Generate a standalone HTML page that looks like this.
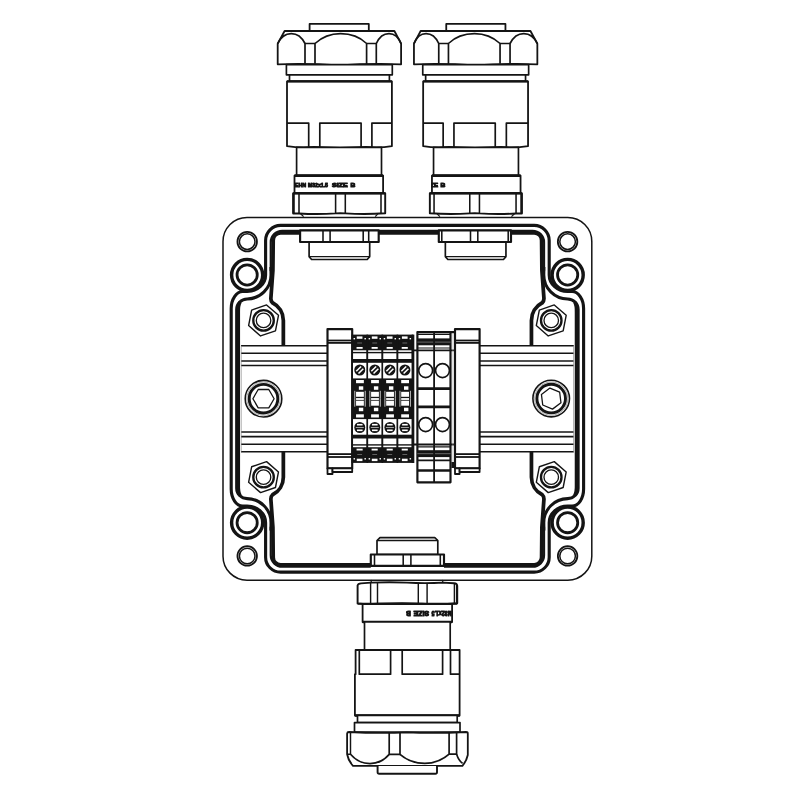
<!DOCTYPE html>
<html lang="en"><head><meta charset="utf-8"><title>Junction box drawing</title>
<style>
html,body{margin:0;padding:0;background:#fff;}
body{width:800px;height:800px;overflow:hidden;}
svg{display:block;will-change:transform;}
.t{font-family:"Liberation Sans",sans-serif;font-weight:bold;font-size:5.7px;fill:#141414;stroke:#141414;stroke-width:1.0px;}
</style></head><body>
<svg width="800" height="800" viewBox="0 0 800 800" fill="none">
<rect x="0" y="0" width="800" height="800" fill="#fff" stroke="none"/>
<g stroke="#141414" stroke-linejoin="round" fill="none">
<g transform="translate(0 0.33)" >
<rect x="223" y="217.1" width="368.80" height="362.70" rx="24" ry="24" stroke-width="1.5" fill="#fff"/>
<circle cx="247.20" cy="241.30" r="9.75" stroke-width="1.8" fill="none" />
<circle cx="247.20" cy="241.30" r="7.80" stroke-width="1.5" fill="none" />
<circle cx="247.15" cy="274.60" r="15.55" stroke-width="3.43" fill="none" />
<circle cx="247.15" cy="274.60" r="10.10" stroke-width="2.81" fill="none" />
<circle cx="247.20" cy="555.60" r="9.75" stroke-width="1.8" fill="none" />
<circle cx="247.20" cy="555.60" r="7.80" stroke-width="1.5" fill="none" />
<circle cx="247.15" cy="522.30" r="15.55" stroke-width="3.43" fill="none" />
<circle cx="247.15" cy="522.30" r="10.10" stroke-width="2.81" fill="none" />
<circle cx="567.60" cy="241.30" r="9.75" stroke-width="1.8" fill="none" />
<circle cx="567.60" cy="241.30" r="7.80" stroke-width="1.5" fill="none" />
<circle cx="567.65" cy="274.60" r="15.55" stroke-width="3.43" fill="none" />
<circle cx="567.65" cy="274.60" r="10.10" stroke-width="2.81" fill="none" />
<circle cx="567.60" cy="555.60" r="9.75" stroke-width="1.8" fill="none" />
<circle cx="567.60" cy="555.60" r="7.80" stroke-width="1.5" fill="none" />
<circle cx="567.65" cy="522.30" r="15.55" stroke-width="3.43" fill="none" />
<circle cx="567.65" cy="522.30" r="10.10" stroke-width="2.81" fill="none" />
<path d="M407.40,225.10 L280.60,225.10 A15,15 0 0 0 265.60,240.10 L265.60,274.60 A18.5,16.6 0 0 1 247.15,291.20 L242.70,291.20 A11.5,17 0 0 0 231.20,308.20 L231.20,398.45 L231.20,488.70 A11.5,17 0 0 0 242.70,505.70 L247.15,505.70 A18.5,16.6 0 0 1 265.60,522.30 L265.60,556.80 A15,15 0 0 0 280.60,571.80 L407.40,571.80 L534.20,571.80 A15,15 0 0 0 549.20,556.80 L549.20,522.30 A18.5,16.6 0 0 1 567.65,505.70 L572.10,505.70 A11.5,17 0 0 0 583.60,488.70 L583.60,398.45 L583.60,308.20 A11.5,17 0 0 0 572.10,291.20 L567.65,291.20 A18.5,16.6 0 0 1 549.20,274.60 L549.20,240.10 A15,15 0 0 0 534.20,225.10 L407.40,225.10 Z" stroke-width="3.12" fill="none" />
<path d="M544.10,270.60 L544.10,241.90 A11.5,11.5 0 0 0 532.60,230.40 L407.40,230.40 L282.20,230.40 A11.5,11.5 0 0 0 270.70,241.90 L270.70,270.60" stroke-width="2.08" fill="none" />
<path d="M544.10,526.30 L544.10,555.00 A11.5,11.5 0 0 1 532.60,566.50 L407.40,566.50 L282.20,566.50 A11.5,11.5 0 0 1 270.70,555.00 L270.70,526.30" stroke-width="2.08" fill="none" />
<path d="M270.90,266.60 L271.00,274.60 A24,24 0 0 1 247.15,298.60 A10.5,10.5 0 0 0 236.65,309.10 L236.65,398.45 L236.65,487.80 A10.5,10.5 0 0 0 247.15,498.30 A24,24 0 0 1 271.00,522.30 L270.90,530.30" stroke-width="3.02" fill="none" />
<path d="M543.90,266.60 L543.80,274.60 A24,24 0 0 0 567.65,298.60 A10.5,10.5 0 0 1 578.15,309.10 L578.15,398.45 L578.15,487.80 A10.5,10.5 0 0 1 567.65,498.30 A24,24 0 0 0 543.80,522.30 L543.90,530.30" stroke-width="3.02" fill="none" />
<path d="M531.45,346.00 L531.45,320.10 A19.8,19.8 0 0 1 542.26,302.46 Q544.20,300.60 543.90,297.50 L541.90,270.00 L541.60,239.85 A7.4,7.4 0 0 0 534.20,232.45 L407.40,232.45 L280.60,232.45 A7.4,7.4 0 0 0 273.20,239.85 L272.90,270.00 L270.90,297.50 Q270.60,300.60 272.54,302.46 A19.8,19.8 0 0 1 283.35,320.10 L283.35,346.00" stroke-width="3.74" fill="none" />
<path d="M531.45,450.90 L531.45,476.80 A19.8,19.8 0 0 0 542.26,494.44 Q544.20,496.30 543.90,499.40 L541.90,526.90 L541.60,557.05 A7.4,7.4 0 0 1 534.20,564.45 L407.40,564.45 L280.60,564.45 A7.4,7.4 0 0 1 273.20,557.05 L272.90,526.90 L270.90,499.40 Q270.60,496.30 272.54,494.44 A19.8,19.8 0 0 0 283.35,476.80 L283.35,450.90" stroke-width="3.74" fill="none" />
<path d="M240.20,301.60 Q238.20,305.00 238.40,312.00 L238.40,398.45 L238.40,484.90 Q238.20,491.90 240.20,495.30" stroke-width="3.33" fill="none" />
<path d="M574.60,301.60 Q576.60,305.00 576.40,312.00 L576.40,398.45 L576.40,484.90 Q576.60,491.90 574.60,495.30" stroke-width="3.33" fill="none" />
<polygon points="266.56,304.59 278.49,314.96 275.47,330.47 260.54,335.61 248.61,325.24 251.63,309.73" stroke-width="1.4" fill="#fff"/>
<circle cx="263.55" cy="320.10" r="10.25" stroke-width="2.34" fill="none" />
<circle cx="263.55" cy="320.10" r="7.25" stroke-width="1.32" fill="none" />
<polygon points="554.26,304.59 566.19,314.96 563.17,330.47 548.24,335.61 536.31,325.24 539.33,309.73" stroke-width="1.4" fill="#fff"/>
<circle cx="551.25" cy="320.10" r="10.25" stroke-width="2.34" fill="none" />
<circle cx="551.25" cy="320.10" r="7.25" stroke-width="1.32" fill="none" />
<polygon points="266.56,461.29 278.49,471.66 275.47,487.17 260.54,492.31 248.61,481.94 251.63,466.43" stroke-width="1.4" fill="#fff"/>
<circle cx="263.55" cy="476.80" r="10.25" stroke-width="2.34" fill="none" />
<circle cx="263.55" cy="476.80" r="7.25" stroke-width="1.32" fill="none" />
<polygon points="554.26,461.29 566.19,471.66 563.17,487.17 548.24,492.31 536.31,481.94 539.33,466.43" stroke-width="1.4" fill="#fff"/>
<circle cx="551.25" cy="476.80" r="10.25" stroke-width="2.34" fill="none" />
<circle cx="551.25" cy="476.80" r="7.25" stroke-width="1.32" fill="none" />
</g>
<rect x="241.0" y="345.75" width="332.80" height="106" fill="#fff" stroke="none"/>
<line x1="241.00" y1="345.75" x2="573.80" y2="345.75" stroke-width="1.74" />
<line x1="241.00" y1="451.75" x2="573.80" y2="451.75" stroke-width="1.74" />
<line x1="241.00" y1="353.25" x2="573.80" y2="353.25" stroke-width="1.68" />
<line x1="241.00" y1="361.00" x2="573.80" y2="361.00" stroke-width="1.68" />
<line x1="241.00" y1="365.50" x2="573.80" y2="365.50" stroke-width="1.68" />
<line x1="241.00" y1="432.00" x2="573.80" y2="432.00" stroke-width="1.68" />
<line x1="241.00" y1="436.60" x2="573.80" y2="436.60" stroke-width="1.68" />
<line x1="241.00" y1="444.25" x2="573.80" y2="444.25" stroke-width="1.68" />
<line x1="241.30" y1="345.75" x2="241.30" y2="451.75" stroke-width="0.62" stroke="#888"/>
<line x1="573.50" y1="345.75" x2="573.50" y2="451.75" stroke-width="0.62" stroke="#888"/>
<circle cx="263.50" cy="398.70" r="18.30" stroke-width="1.56" fill="#fff" />
<circle cx="263.50" cy="398.70" r="16.60" stroke-width="0.62" fill="none" stroke="#777"/>
<circle cx="263.50" cy="398.70" r="14.30" stroke-width="2.91" fill="none" />
<polygon points="274.10,398.70 268.80,407.88 258.20,407.88 252.90,398.70 258.20,389.52 268.80,389.52" stroke-width="1.3" fill="none"/>
<circle cx="551.20" cy="398.60" r="18.30" stroke-width="1.56" fill="#fff" />
<circle cx="551.20" cy="398.60" r="16.60" stroke-width="0.62" fill="none" stroke="#777"/>
<circle cx="551.20" cy="398.60" r="14.30" stroke-width="2.91" fill="none" />
<polygon points="549.91,388.08 559.67,392.22 560.96,402.74 552.49,409.12 542.73,404.98 541.44,394.46" stroke-width="1.3" fill="none"/>
<rect x="327.5" y="329.1" width="152.1" height="139.3" fill="#fff" stroke="none"/>
<rect x="327.50" y="329.10" width="24.70" height="139.30" stroke-width="2.16" fill="#fff" />
<line x1="327.50" y1="340.50" x2="352.20" y2="340.50" stroke-width="1.8" />
<line x1="327.50" y1="342.90" x2="352.20" y2="342.90" stroke-width="1.8" />
<line x1="327.50" y1="454.10" x2="352.20" y2="454.10" stroke-width="1.8" />
<line x1="327.50" y1="457.00" x2="352.20" y2="457.00" stroke-width="1.8" />
<rect x="327.50" y="468.40" width="5.00" height="5.60" stroke-width="1.8" fill="#fff" />
<rect x="332.50" y="468.40" width="19.70" height="3.60" stroke-width="1.8" fill="#fff" />
<rect x="455.00" y="329.10" width="24.60" height="139.30" stroke-width="2.16" fill="#fff" />
<line x1="455.00" y1="340.50" x2="479.60" y2="340.50" stroke-width="1.8" />
<line x1="455.00" y1="342.90" x2="479.60" y2="342.90" stroke-width="1.8" />
<line x1="455.00" y1="454.10" x2="479.60" y2="454.10" stroke-width="1.8" />
<line x1="455.00" y1="457.00" x2="479.60" y2="457.00" stroke-width="1.8" />
<rect x="455.00" y="468.40" width="4.60" height="5.60" stroke-width="1.8" fill="#fff" />
<rect x="459.60" y="468.40" width="20.00" height="3.60" stroke-width="1.8" fill="#fff" />
<rect x="352.25" y="334.6" width="15.05" height="128.30" fill="#141414" stroke="none"/>
<rect x="356.75" y="336.40" width="5.70" height="2.40" fill="#fff" stroke="none"/>
<rect x="356.75" y="458.70" width="5.70" height="2.40" fill="#fff" stroke="none"/>
<rect x="353.55" y="338.00" width="1.50" height="1.40" fill="#fff" stroke="none"/>
<rect x="353.55" y="458.10" width="1.50" height="1.40" fill="#fff" stroke="none"/>
<rect x="364.45" y="338.00" width="1.50" height="1.40" fill="#fff" stroke="none"/>
<rect x="364.45" y="458.10" width="1.50" height="1.40" fill="#fff" stroke="none"/>
<rect x="357.25" y="342.60" width="4.80" height="0.80" fill="#777" stroke="none"/>
<rect x="357.25" y="454.10" width="4.80" height="0.80" fill="#777" stroke="none"/>
<rect x="356.55" y="347.00" width="6.10" height="1.80" fill="#fff" stroke="none"/>
<rect x="356.55" y="448.70" width="6.10" height="1.80" fill="#fff" stroke="none"/>
<rect x="353.05" y="350.30" width="13.45" height="1.60" fill="#fff" stroke="none"/>
<rect x="353.05" y="445.60" width="13.45" height="1.60" fill="#fff" stroke="none"/>
<rect x="353.05" y="353.30" width="13.45" height="5.70" fill="#fff" stroke="none"/>
<rect x="353.05" y="438.50" width="13.45" height="5.70" fill="#fff" stroke="none"/>
<rect x="352.85" y="362.80" width="13.85" height="15.60" fill="#fff" stroke="none"/>
<rect x="352.85" y="419.10" width="13.85" height="15.60" fill="#fff" stroke="none"/>
<rect x="356.05" y="380.00" width="7.80" height="3.20" fill="#fff" stroke="none"/>
<rect x="356.05" y="414.30" width="7.80" height="3.20" fill="#fff" stroke="none"/>
<rect x="358.85" y="386.30" width="4.40" height="3.50" fill="#fff" stroke="none"/>
<rect x="358.85" y="407.70" width="4.40" height="3.50" fill="#fff" stroke="none"/>
<rect x="356.05" y="391.80" width="7.80" height="5.00" fill="#fff" stroke="none"/>
<rect x="356.05" y="400.70" width="7.80" height="5.00" fill="#fff" stroke="none"/>
<rect x="356.05" y="398.05" width="7.8" height="1.9" fill="#f2f2f2" stroke="none"/>
<rect x="354.35" y="390.80" width="0.90" height="7.95" fill="#d4d4d4" stroke="none"/>
<rect x="354.35" y="398.75" width="0.90" height="7.95" fill="#d4d4d4" stroke="none"/>
<rect x="364.75" y="390.80" width="0.90" height="7.95" fill="#d4d4d4" stroke="none"/>
<rect x="364.75" y="398.75" width="0.90" height="7.95" fill="#d4d4d4" stroke="none"/>
<circle cx="359.77" cy="370.0" r="5.5" fill="#141414" stroke="none"/>
<g transform="rotate(-45 359.77 370.0)"><rect x="356.38" y="367.65" width="6.8" height="1.55" fill="#fff" stroke="none"/><rect x="356.38" y="370.80" width="6.8" height="1.55" fill="#fff" stroke="none"/></g>
<circle cx="359.77" cy="427.50" r="5.5" fill="#141414" stroke="none"/>
<rect x="356.97" y="423.90" width="5.6" height="1.6" fill="#fff" stroke="none"/><rect x="355.77" y="427.15" width="8.0" height="0.7" fill="#ddd" stroke="none"/><rect x="356.97" y="429.50" width="5.6" height="1.6" fill="#fff" stroke="none"/>
<rect x="367.30" y="334.6" width="15.05" height="128.30" fill="#141414" stroke="none"/>
<rect x="371.80" y="336.40" width="5.70" height="2.40" fill="#fff" stroke="none"/>
<rect x="371.80" y="458.70" width="5.70" height="2.40" fill="#fff" stroke="none"/>
<rect x="368.60" y="338.00" width="1.50" height="1.40" fill="#fff" stroke="none"/>
<rect x="368.60" y="458.10" width="1.50" height="1.40" fill="#fff" stroke="none"/>
<rect x="379.50" y="338.00" width="1.50" height="1.40" fill="#fff" stroke="none"/>
<rect x="379.50" y="458.10" width="1.50" height="1.40" fill="#fff" stroke="none"/>
<rect x="372.30" y="342.60" width="4.80" height="0.80" fill="#777" stroke="none"/>
<rect x="372.30" y="454.10" width="4.80" height="0.80" fill="#777" stroke="none"/>
<rect x="371.60" y="347.00" width="6.10" height="1.80" fill="#fff" stroke="none"/>
<rect x="371.60" y="448.70" width="6.10" height="1.80" fill="#fff" stroke="none"/>
<rect x="368.10" y="350.30" width="13.45" height="1.60" fill="#fff" stroke="none"/>
<rect x="368.10" y="445.60" width="13.45" height="1.60" fill="#fff" stroke="none"/>
<rect x="368.10" y="353.30" width="13.45" height="5.70" fill="#fff" stroke="none"/>
<rect x="368.10" y="438.50" width="13.45" height="5.70" fill="#fff" stroke="none"/>
<rect x="367.90" y="362.80" width="13.85" height="15.60" fill="#fff" stroke="none"/>
<rect x="367.90" y="419.10" width="13.85" height="15.60" fill="#fff" stroke="none"/>
<rect x="371.10" y="380.00" width="7.80" height="3.20" fill="#fff" stroke="none"/>
<rect x="371.10" y="414.30" width="7.80" height="3.20" fill="#fff" stroke="none"/>
<rect x="373.90" y="386.30" width="4.40" height="3.50" fill="#fff" stroke="none"/>
<rect x="373.90" y="407.70" width="4.40" height="3.50" fill="#fff" stroke="none"/>
<rect x="371.10" y="391.80" width="7.80" height="5.00" fill="#fff" stroke="none"/>
<rect x="371.10" y="400.70" width="7.80" height="5.00" fill="#fff" stroke="none"/>
<rect x="371.10" y="398.05" width="7.8" height="1.9" fill="#f2f2f2" stroke="none"/>
<rect x="369.40" y="390.80" width="0.90" height="7.95" fill="#d4d4d4" stroke="none"/>
<rect x="369.40" y="398.75" width="0.90" height="7.95" fill="#d4d4d4" stroke="none"/>
<rect x="379.80" y="390.80" width="0.90" height="7.95" fill="#d4d4d4" stroke="none"/>
<rect x="379.80" y="398.75" width="0.90" height="7.95" fill="#d4d4d4" stroke="none"/>
<circle cx="374.82" cy="370.0" r="5.5" fill="#141414" stroke="none"/>
<g transform="rotate(-45 374.82 370.0)"><rect x="371.43" y="367.65" width="6.8" height="1.55" fill="#fff" stroke="none"/><rect x="371.43" y="370.80" width="6.8" height="1.55" fill="#fff" stroke="none"/></g>
<circle cx="374.82" cy="427.50" r="5.5" fill="#141414" stroke="none"/>
<rect x="372.02" y="423.90" width="5.6" height="1.6" fill="#fff" stroke="none"/><rect x="370.82" y="427.15" width="8.0" height="0.7" fill="#ddd" stroke="none"/><rect x="372.02" y="429.50" width="5.6" height="1.6" fill="#fff" stroke="none"/>
<rect x="382.35" y="334.6" width="15.05" height="128.30" fill="#141414" stroke="none"/>
<rect x="386.85" y="336.40" width="5.70" height="2.40" fill="#fff" stroke="none"/>
<rect x="386.85" y="458.70" width="5.70" height="2.40" fill="#fff" stroke="none"/>
<rect x="383.65" y="338.00" width="1.50" height="1.40" fill="#fff" stroke="none"/>
<rect x="383.65" y="458.10" width="1.50" height="1.40" fill="#fff" stroke="none"/>
<rect x="394.55" y="338.00" width="1.50" height="1.40" fill="#fff" stroke="none"/>
<rect x="394.55" y="458.10" width="1.50" height="1.40" fill="#fff" stroke="none"/>
<rect x="387.35" y="342.60" width="4.80" height="0.80" fill="#777" stroke="none"/>
<rect x="387.35" y="454.10" width="4.80" height="0.80" fill="#777" stroke="none"/>
<rect x="386.65" y="347.00" width="6.10" height="1.80" fill="#fff" stroke="none"/>
<rect x="386.65" y="448.70" width="6.10" height="1.80" fill="#fff" stroke="none"/>
<rect x="383.15" y="350.30" width="13.45" height="1.60" fill="#fff" stroke="none"/>
<rect x="383.15" y="445.60" width="13.45" height="1.60" fill="#fff" stroke="none"/>
<rect x="383.15" y="353.30" width="13.45" height="5.70" fill="#fff" stroke="none"/>
<rect x="383.15" y="438.50" width="13.45" height="5.70" fill="#fff" stroke="none"/>
<rect x="382.95" y="362.80" width="13.85" height="15.60" fill="#fff" stroke="none"/>
<rect x="382.95" y="419.10" width="13.85" height="15.60" fill="#fff" stroke="none"/>
<rect x="386.15" y="380.00" width="7.80" height="3.20" fill="#fff" stroke="none"/>
<rect x="386.15" y="414.30" width="7.80" height="3.20" fill="#fff" stroke="none"/>
<rect x="388.95" y="386.30" width="4.40" height="3.50" fill="#fff" stroke="none"/>
<rect x="388.95" y="407.70" width="4.40" height="3.50" fill="#fff" stroke="none"/>
<rect x="386.15" y="391.80" width="7.80" height="5.00" fill="#fff" stroke="none"/>
<rect x="386.15" y="400.70" width="7.80" height="5.00" fill="#fff" stroke="none"/>
<rect x="386.15" y="398.05" width="7.8" height="1.9" fill="#f2f2f2" stroke="none"/>
<rect x="384.45" y="390.80" width="0.90" height="7.95" fill="#d4d4d4" stroke="none"/>
<rect x="384.45" y="398.75" width="0.90" height="7.95" fill="#d4d4d4" stroke="none"/>
<rect x="394.85" y="390.80" width="0.90" height="7.95" fill="#d4d4d4" stroke="none"/>
<rect x="394.85" y="398.75" width="0.90" height="7.95" fill="#d4d4d4" stroke="none"/>
<circle cx="389.88" cy="370.0" r="5.5" fill="#141414" stroke="none"/>
<g transform="rotate(-45 389.88 370.0)"><rect x="386.48" y="367.65" width="6.8" height="1.55" fill="#fff" stroke="none"/><rect x="386.48" y="370.80" width="6.8" height="1.55" fill="#fff" stroke="none"/></g>
<circle cx="389.88" cy="427.50" r="5.5" fill="#141414" stroke="none"/>
<rect x="387.07" y="423.90" width="5.6" height="1.6" fill="#fff" stroke="none"/><rect x="385.88" y="427.15" width="8.0" height="0.7" fill="#ddd" stroke="none"/><rect x="387.07" y="429.50" width="5.6" height="1.6" fill="#fff" stroke="none"/>
<rect x="397.40" y="334.6" width="15.05" height="128.30" fill="#141414" stroke="none"/>
<rect x="401.90" y="336.40" width="5.70" height="2.40" fill="#fff" stroke="none"/>
<rect x="401.90" y="458.70" width="5.70" height="2.40" fill="#fff" stroke="none"/>
<rect x="398.70" y="338.00" width="1.50" height="1.40" fill="#fff" stroke="none"/>
<rect x="398.70" y="458.10" width="1.50" height="1.40" fill="#fff" stroke="none"/>
<rect x="409.60" y="338.00" width="1.50" height="1.40" fill="#fff" stroke="none"/>
<rect x="409.60" y="458.10" width="1.50" height="1.40" fill="#fff" stroke="none"/>
<rect x="402.40" y="342.60" width="4.80" height="0.80" fill="#777" stroke="none"/>
<rect x="402.40" y="454.10" width="4.80" height="0.80" fill="#777" stroke="none"/>
<rect x="401.70" y="347.00" width="6.10" height="1.80" fill="#fff" stroke="none"/>
<rect x="401.70" y="448.70" width="6.10" height="1.80" fill="#fff" stroke="none"/>
<rect x="398.20" y="350.30" width="13.45" height="1.60" fill="#fff" stroke="none"/>
<rect x="398.20" y="445.60" width="13.45" height="1.60" fill="#fff" stroke="none"/>
<rect x="398.20" y="353.30" width="13.45" height="5.70" fill="#fff" stroke="none"/>
<rect x="398.20" y="438.50" width="13.45" height="5.70" fill="#fff" stroke="none"/>
<rect x="398.00" y="362.80" width="13.85" height="15.60" fill="#fff" stroke="none"/>
<rect x="398.00" y="419.10" width="13.85" height="15.60" fill="#fff" stroke="none"/>
<rect x="401.20" y="380.00" width="7.80" height="3.20" fill="#fff" stroke="none"/>
<rect x="401.20" y="414.30" width="7.80" height="3.20" fill="#fff" stroke="none"/>
<rect x="404.00" y="386.30" width="4.40" height="3.50" fill="#fff" stroke="none"/>
<rect x="404.00" y="407.70" width="4.40" height="3.50" fill="#fff" stroke="none"/>
<rect x="401.20" y="391.80" width="7.80" height="5.00" fill="#fff" stroke="none"/>
<rect x="401.20" y="400.70" width="7.80" height="5.00" fill="#fff" stroke="none"/>
<rect x="401.20" y="398.05" width="7.8" height="1.9" fill="#f2f2f2" stroke="none"/>
<rect x="399.50" y="390.80" width="0.90" height="7.95" fill="#d4d4d4" stroke="none"/>
<rect x="399.50" y="398.75" width="0.90" height="7.95" fill="#d4d4d4" stroke="none"/>
<rect x="409.90" y="390.80" width="0.90" height="7.95" fill="#d4d4d4" stroke="none"/>
<rect x="409.90" y="398.75" width="0.90" height="7.95" fill="#d4d4d4" stroke="none"/>
<circle cx="404.92" cy="370.0" r="5.5" fill="#141414" stroke="none"/>
<g transform="rotate(-45 404.92 370.0)"><rect x="401.52" y="367.65" width="6.8" height="1.55" fill="#fff" stroke="none"/><rect x="401.52" y="370.80" width="6.8" height="1.55" fill="#fff" stroke="none"/></g>
<circle cx="404.92" cy="427.50" r="5.5" fill="#141414" stroke="none"/>
<rect x="402.12" y="423.90" width="5.6" height="1.6" fill="#fff" stroke="none"/><rect x="400.92" y="427.15" width="8.0" height="0.7" fill="#ddd" stroke="none"/><rect x="402.12" y="429.50" width="5.6" height="1.6" fill="#fff" stroke="none"/>
<line x1="352.25" y1="334.60" x2="352.25" y2="463.00" stroke-width="1.56" />
<line x1="367.30" y1="334.60" x2="367.30" y2="463.00" stroke-width="1.56" />
<line x1="382.35" y1="334.60" x2="382.35" y2="463.00" stroke-width="1.56" />
<line x1="397.40" y1="334.60" x2="397.40" y2="463.00" stroke-width="1.56" />
<line x1="412.45" y1="334.60" x2="412.45" y2="463.00" stroke-width="1.56" />
<line x1="413.30" y1="334.60" x2="413.30" y2="463.00" stroke-width="2.04" />
<rect x="417.40" y="332.10" width="33.10" height="150.20" stroke-width="2.16" fill="#fff" />
<line x1="413.60" y1="350.30" x2="455.00" y2="350.30" stroke-width="1.8" />
<line x1="413.60" y1="444.50" x2="455.00" y2="444.50" stroke-width="1.8" />
<line x1="417.40" y1="332.10" x2="455.00" y2="332.10" stroke-width="2.16" />
<line x1="417.40" y1="334.50" x2="450.50" y2="334.50" stroke-width="1.2" />
<rect x="417.4" y="338.4" width="33.10" height="6.9" fill="#141414" stroke="none"/>
<line x1="417.40" y1="342.10" x2="450.50" y2="342.10" stroke-width="0.62" stroke="#999"/>
<line x1="417.40" y1="348.00" x2="450.50" y2="348.00" stroke-width="1.2" />
<line x1="417.40" y1="388.60" x2="450.50" y2="388.60" stroke-width="2.6" />
<line x1="417.40" y1="406.90" x2="450.50" y2="406.90" stroke-width="2.6" />
<line x1="417.40" y1="446.90" x2="450.50" y2="446.90" stroke-width="1.2" />
<rect x="417.4" y="450.2" width="33.10" height="6.9" fill="#141414" stroke="none"/>
<line x1="417.40" y1="453.70" x2="450.50" y2="453.70" stroke-width="0.62" stroke="#999"/>
<line x1="417.40" y1="460.40" x2="450.50" y2="460.40" stroke-width="1.68" />
<line x1="417.40" y1="470.50" x2="450.50" y2="470.50" stroke-width="2.5" />
<line x1="434.10" y1="332.10" x2="434.10" y2="482.30" stroke-width="1.8" />
<circle cx="425.65" cy="370.60" r="6.95" stroke-width="1.68" fill="none" />
<circle cx="425.65" cy="424.60" r="6.95" stroke-width="1.68" fill="none" />
<circle cx="442.50" cy="370.60" r="6.95" stroke-width="1.68" fill="none" />
<circle cx="442.50" cy="424.60" r="6.95" stroke-width="1.68" fill="none" />
<line x1="452.90" y1="333.00" x2="452.90" y2="462.00" stroke-width="0.52" stroke="#aaa"/>
<rect x="451.4" y="462" width="3.6" height="6" fill="#141414" stroke="none"/>
<g transform="translate(0.00 0)" >
<path d="M309.1,241.9 V256.6 L311.6,259.5 H367.2 L369.7,256.6 V241.9 Z" stroke-width="1.68" fill="#fff" />
<line x1="309.10" y1="256.60" x2="369.70" y2="256.60" stroke-width="1.44" />
<rect x="300.10" y="230.40" width="78.60" height="11.60" stroke-width="2.16" fill="#fff" />
<line x1="323.00" y1="230.40" x2="323.00" y2="242.00" stroke-width="1.56" />
<line x1="330.10" y1="230.40" x2="330.10" y2="242.00" stroke-width="1.56" />
<line x1="363.20" y1="230.40" x2="363.20" y2="242.00" stroke-width="1.56" />
<line x1="368.70" y1="230.40" x2="368.70" y2="242.00" stroke-width="1.56" />
<rect x="309.60" y="23.90" width="59.20" height="7.10" stroke-width="1.8" fill="#fff" />
<path d="M284.6,31 H394.4 L401.1,43.6 V64.3 Q370,63.2 339.4,65.4 Q308,63.2 277.7,64.3 V43.6 Z" stroke-width="1.8" fill="#fff" />
<path d="M277.7,43.6 C281,36.5 286,33.6 291.3,33.6 C297,33.6 302,37.5 305,43.5 V63.7" stroke-width="1.68" fill="none" />
<path d="M305,43.5 H315 V63.7" stroke-width="1.68" fill="none" />
<path d="M315,43.5 C322,37 330,33.6 340.5,33.6 C351,33.6 360,37 366.6,43.5 V64" stroke-width="1.68" fill="none" />
<path d="M366.6,43.5 H376.3 V64" stroke-width="1.68" fill="none" />
<path d="M376.3,43.5 C379,37.5 383.5,33.6 389,33.6 C394,33.6 398.5,37 401.1,43.6" stroke-width="1.68" fill="none" />
<rect x="286.40" y="64.60" width="105.90" height="10.20" stroke-width="1.68" fill="#fff" />
<rect x="289.50" y="74.80" width="99.90" height="6.50" stroke-width="1.68" fill="#fff" />
<path d="M287,81.3 H391.9 V146.2 Q380,148.2 366,147 Q340,148.6 314,147 Q300,148.2 287,146.2 Z" stroke-width="1.8" fill="#fff" />
<line x1="287.00" y1="81.30" x2="391.90" y2="81.30" stroke-width="2.29" />
<path d="M287,123.1 H308.7 V147" stroke-width="1.68" fill="none" />
<path d="M319.8,147 V123.1 H361.1 V147" stroke-width="1.68" fill="none" />
<path d="M371.9,147 V123.1 H391.9" stroke-width="1.68" fill="none" />
<rect x="296.60" y="147.40" width="84.90" height="28.10" stroke-width="1.68" fill="#fff" />
<rect x="294.50" y="175.60" width="88.60" height="17.60" stroke-width="1.8" fill="#fff" />
<line x1="294.50" y1="175.70" x2="383.10" y2="175.70" stroke-width="2.7" />
<path d="M293.2,193.2 H385.2 V213.2 Q366,214.6 345.3,213.4 Q340,213.0 335.6,213.4 Q318,214.6 299,213.5 H293.2 Z" stroke-width="1.92" fill="#fff" />
<line x1="293.60" y1="193.20" x2="293.60" y2="213.40" stroke-width="2.29" />
<line x1="293.20" y1="193.30" x2="385.20" y2="193.30" stroke-width="2.16" />
<line x1="299.00" y1="193.20" x2="299.00" y2="213.50" stroke-width="1.56" />
<line x1="335.60" y1="193.20" x2="335.60" y2="213.50" stroke-width="1.56" />
<line x1="345.30" y1="193.20" x2="345.30" y2="213.50" stroke-width="1.56" />
<line x1="381.00" y1="193.20" x2="381.00" y2="213.50" stroke-width="1.56" />
<line x1="300.60" y1="213.80" x2="303.60" y2="216.60" stroke-width="1.2" />
<line x1="377.90" y1="213.80" x2="375.20" y2="216.60" stroke-width="1.2" />
</g>
<text x="295.00" y="187.00" textLength="11.2" lengthAdjust="spacingAndGlyphs" class="t">EHN</text>
<text x="307.90" y="187.00" textLength="20.1" lengthAdjust="spacingAndGlyphs" class="t">M32x1.5</text>
<text x="332.00" y="187.00" textLength="15.7" lengthAdjust="spacingAndGlyphs" class="t">SIZE</text>
<text x="350.40" y="187.00" textLength="4.8" lengthAdjust="spacingAndGlyphs" class="t">B</text>
<g transform="translate(815.05 0) scale(-1 1)" >
<path d="M309.1,241.9 V256.6 L311.6,259.5 H367.2 L369.7,256.6 V241.9 Z" stroke-width="1.68" fill="#fff" />
<line x1="309.10" y1="256.60" x2="369.70" y2="256.60" stroke-width="1.44" />
<rect x="304.05" y="230.40" width="72.20" height="11.60" stroke-width="2.16" fill="#fff" />
<line x1="306.85" y1="230.40" x2="306.85" y2="242.00" stroke-width="1.56" />
<line x1="337.25" y1="230.40" x2="337.25" y2="242.00" stroke-width="1.56" />
<line x1="344.55" y1="230.40" x2="344.55" y2="242.00" stroke-width="1.56" />
<line x1="373.25" y1="230.40" x2="373.25" y2="242.00" stroke-width="1.56" />
<rect x="309.60" y="23.90" width="59.20" height="7.10" stroke-width="1.8" fill="#fff" />
<path d="M284.6,31 H394.4 L401.1,43.6 V64.3 Q370,63.2 339.4,65.4 Q308,63.2 277.7,64.3 V43.6 Z" stroke-width="1.8" fill="#fff" />
<path d="M277.7,43.6 C281,36.5 286,33.6 291.3,33.6 C297,33.6 302,37.5 305,43.5 V63.7" stroke-width="1.68" fill="none" />
<path d="M305,43.5 H315 V63.7" stroke-width="1.68" fill="none" />
<path d="M315,43.5 C322,37 330,33.6 340.5,33.6 C351,33.6 360,37 366.6,43.5 V64" stroke-width="1.68" fill="none" />
<path d="M366.6,43.5 H376.3 V64" stroke-width="1.68" fill="none" />
<path d="M376.3,43.5 C379,37.5 383.5,33.6 389,33.6 C394,33.6 398.5,37 401.1,43.6" stroke-width="1.68" fill="none" />
<rect x="286.40" y="64.60" width="105.90" height="10.20" stroke-width="1.68" fill="#fff" />
<rect x="289.50" y="74.80" width="99.90" height="6.50" stroke-width="1.68" fill="#fff" />
<path d="M287,81.3 H391.9 V146.2 Q380,148.2 366,147 Q340,148.6 314,147 Q300,148.2 287,146.2 Z" stroke-width="1.8" fill="#fff" />
<line x1="287.00" y1="81.30" x2="391.90" y2="81.30" stroke-width="2.29" />
<path d="M287,123.1 H308.7 V147" stroke-width="1.68" fill="none" />
<path d="M319.8,147 V123.1 H361.1 V147" stroke-width="1.68" fill="none" />
<path d="M371.9,147 V123.1 H391.9" stroke-width="1.68" fill="none" />
<rect x="296.60" y="147.40" width="84.90" height="28.10" stroke-width="1.68" fill="#fff" />
<rect x="294.50" y="175.60" width="88.60" height="17.60" stroke-width="1.8" fill="#fff" />
<line x1="294.50" y1="175.70" x2="383.10" y2="175.70" stroke-width="2.7" />
<path d="M293.2,193.2 H385.2 V213.2 Q366,214.6 345.3,213.4 Q340,213.0 335.6,213.4 Q318,214.6 299,213.5 H293.2 Z" stroke-width="1.92" fill="#fff" />
<line x1="293.60" y1="193.20" x2="293.60" y2="213.40" stroke-width="2.29" />
<line x1="293.20" y1="193.30" x2="385.20" y2="193.30" stroke-width="2.16" />
<line x1="299.00" y1="193.20" x2="299.00" y2="213.50" stroke-width="1.56" />
<line x1="335.60" y1="193.20" x2="335.60" y2="213.50" stroke-width="1.56" />
<line x1="345.30" y1="193.20" x2="345.30" y2="213.50" stroke-width="1.56" />
<line x1="381.00" y1="193.20" x2="381.00" y2="213.50" stroke-width="1.56" />
<line x1="300.60" y1="213.80" x2="303.60" y2="216.60" stroke-width="1.2" />
<line x1="377.90" y1="213.80" x2="375.20" y2="216.60" stroke-width="1.2" />
</g>
<clipPath id="ct"><rect x="431.2" y="178" width="40" height="14"/></clipPath>
<g clip-path="url(#ct)">
<text x="430.20" y="187.00" textLength="7.8" lengthAdjust="spacingAndGlyphs" class="t">ZE</text>
</g>
<text x="440.60" y="187.00" textLength="4.8" lengthAdjust="spacingAndGlyphs" class="t">B</text>
<path d="M377,554.5 V540.5 L380,537.6 H434.8 L437.8,540.5 V554.5 Z" stroke-width="1.68" fill="#fff" />
<line x1="377.00" y1="540.50" x2="437.80" y2="540.50" stroke-width="1.44" />
<rect x="370.8" y="560" width="73.2" height="8.3" fill="#fff" stroke="none"/>
<rect x="370.80" y="554.50" width="73.20" height="11.30" stroke-width="2.16" fill="#fff" />
<line x1="374.50" y1="554.50" x2="374.50" y2="565.60" stroke-width="1.56" />
<line x1="403.20" y1="554.50" x2="403.20" y2="565.60" stroke-width="1.56" />
<line x1="410.90" y1="554.50" x2="410.90" y2="565.60" stroke-width="1.56" />
<line x1="440.30" y1="554.50" x2="440.30" y2="565.60" stroke-width="1.56" />
<path d="M357.6,585.4 Q358,583.6 361,583.4 L371,582.6 Q390,581.8 407,582.6 Q425,583.6 443,582.6 L454,583.2 Q457.2,583.4 457.2,586 V603.2 Q440,604.8 422.5,603.6 Q400,602.6 377.5,603.8 Q366,604.6 357.6,603.4 Z" stroke-width="1.92" fill="#fff" />
<line x1="457.00" y1="585.00" x2="457.00" y2="603.40" stroke-width="2.08" />
<line x1="357.60" y1="603.80" x2="457.20" y2="603.80" stroke-width="1.92" />
<line x1="370.60" y1="583.00" x2="370.60" y2="603.60" stroke-width="1.44" />
<line x1="377.50" y1="583.00" x2="377.50" y2="603.60" stroke-width="1.44" />
<line x1="418.30" y1="583.00" x2="418.30" y2="603.60" stroke-width="1.44" />
<line x1="427.10" y1="583.00" x2="427.10" y2="603.60" stroke-width="1.44" />
<line x1="454.40" y1="583.00" x2="454.40" y2="603.60" stroke-width="1.44" />
<line x1="371.00" y1="582.40" x2="371.60" y2="580.00" stroke-width="1.2" />
<line x1="443.00" y1="582.40" x2="442.20" y2="580.00" stroke-width="1.2" />
<rect x="362.60" y="604.00" width="89.50" height="18.00" stroke-width="1.8" fill="#fff" />
<line x1="362.60" y1="622.00" x2="452.10" y2="622.00" stroke-width="2.7" />
<rect x="364.50" y="622.00" width="85.70" height="28.00" stroke-width="1.68" fill="#fff" />
<path d="M355.6,650 H459.6 V715.5 H354.9 V674.2 H355.6 Z" stroke-width="1.8" fill="#fff" />
<line x1="354.90" y1="715.50" x2="459.80" y2="715.50" stroke-width="2.29" />
<path d="M359.3,650 V674.2 H390.6 V650" stroke-width="1.68" fill="none" />
<path d="M402.2,650 V674.2 H442.6 V650" stroke-width="1.68" fill="none" />
<path d="M450.5,650 V674.2 H459.6" stroke-width="1.68" fill="none" />
<rect x="357.50" y="715.50" width="99.70" height="7.10" stroke-width="1.68" fill="#fff" />
<rect x="354.50" y="722.60" width="105.50" height="9.40" stroke-width="1.68" fill="#fff" />
<path d="M347.1,733.5 Q347.2,732 349,732 Q378,733.6 407,732.4 Q436,733.6 466,732 Q467.8,732 467.8,733.5 V755 Q466.5,761 462.4,765.8 H353.0 Q348.5,761 347.1,754.2 Z" stroke-width="1.8" fill="#fff" />
<path d="M350.5,732.6 V754.2 H347.1" stroke-width="1.44" fill="none" />
<path d="M350.5,754.2 C356,760.5 362,763.6 370,763.6 C378,763.6 384,760.5 389.2,754.4 V732.8" stroke-width="1.68" fill="none" />
<path d="M389.2,754.4 H400 V732.8" stroke-width="1.68" fill="none" />
<path d="M400,754.4 C407,760.5 415,763.4 424.8,763.4 C434.5,763.4 442,760.5 449.1,754.2 V732.8" stroke-width="1.68" fill="none" />
<path d="M449.1,754.2 H456.6 V732.8" stroke-width="1.68" fill="none" />
<path d="M456.6,754.2 C458,758.5 460,761.5 462.6,763.4" stroke-width="1.68" fill="none" />
<path d="M377.6,766 V772.3 Q377.6,773.8 379.2,773.8 H435.4 Q437,773.8 437,772.3 V766" stroke-width="1.92" fill="#fff" />
<text x="406.20" y="615.60" textLength="4.6" lengthAdjust="spacingAndGlyphs" class="t" style="font-size:6.3px" transform="rotate(180 408.50 613.30)">B</text>
<text x="413.50" y="615.60" textLength="15.6" lengthAdjust="spacingAndGlyphs" class="t" style="font-size:6.3px" transform="rotate(180 421.30 613.30)">SIZE</text>
<clipPath id="cb"><rect x="400" y="606" width="51.6" height="14"/></clipPath>
<g clip-path="url(#cb)">
<text x="431.60" y="615.60" textLength="20.3" lengthAdjust="spacingAndGlyphs" class="t" style="font-size:6.3px" transform="rotate(180 441.75 613.30)">M32x1.5</text>
</g>
</g>
</svg>
</body></html>
